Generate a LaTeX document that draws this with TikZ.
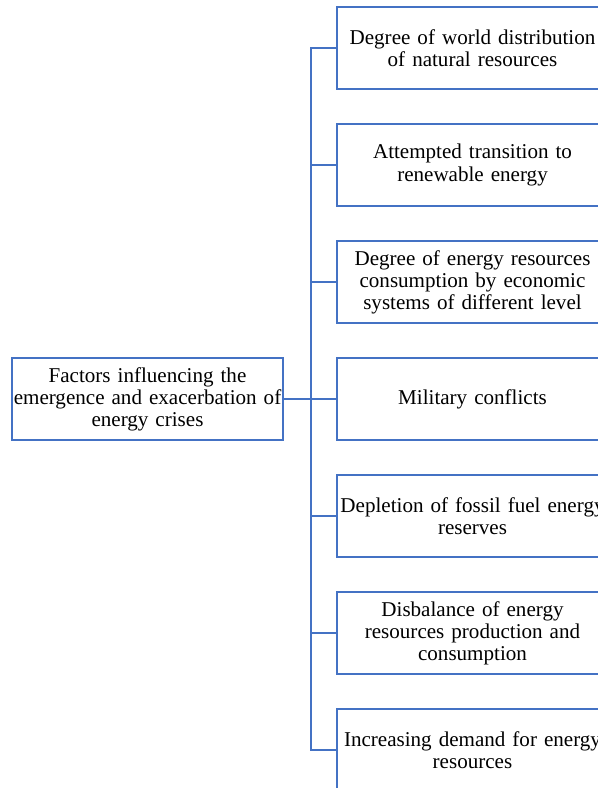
\documentclass[tikz,border=0pt]{standalone}
\usepackage{fontspec}
\setmainfont{Liberation Serif}
\definecolor{linkblue}{HTML}{4472C4}
\tikzset{
	factor/.style={draw=linkblue, line width=1.5pt, rectangle, inner sep=0pt,
		minimum width=203.25pt, minimum height=61.5pt, text width=203.25pt,
		align=center, font=\fontsize{15.8}{16.6}\selectfont},
	link/.style={draw=linkblue, line width=1.5pt}
}
\begin{document}
\begin{tikzpicture}[x=0.75pt,y=-0.75pt]
	\useasboundingbox (0,0) rectangle (598,788);

	\node[factor] (root) at (147.5,399) {Factors influencing the\\ emergence and exacerbation of\\ energy crises};

	\node[factor] (f1) at (472.5,48) {Degree of world distribution\\ of natural resources};
	\node[factor] (f2) at (472.5,165) {Attempted transition to\\ renewable energy};
	\node[factor] (f3) at (472.5,282) {Degree of energy resources\\ consumption by economic\\ systems of different level};
	\node[factor] (f4) at (472.5,399) {Military conflicts};
	\node[factor] (f5) at (472.5,516) {Depletion of fossil fuel energy\\ reserves};
	\node[factor] (f6) at (472.5,633) {Disbalance of energy\\ resources production and\\ consumption};
	\node[factor] (f7) at (472.5,750) {Increasing demand for energy\\ resources};

	\coordinate (trunk) at (310.5,0);

	% trunk and branches
	\draw[link] (f1.west) -- (f1.west -| trunk) -- (f7.west -| trunk) -- (f7.west);
	\foreach \f in {f2,f3,f4,f5,f6}
		\draw[link] (\f.west) -- (\f.west -| trunk);
	\draw[link, line width=2.2pt] (root.east) -- (root.east -| trunk);
\end{tikzpicture}
\end{document}
